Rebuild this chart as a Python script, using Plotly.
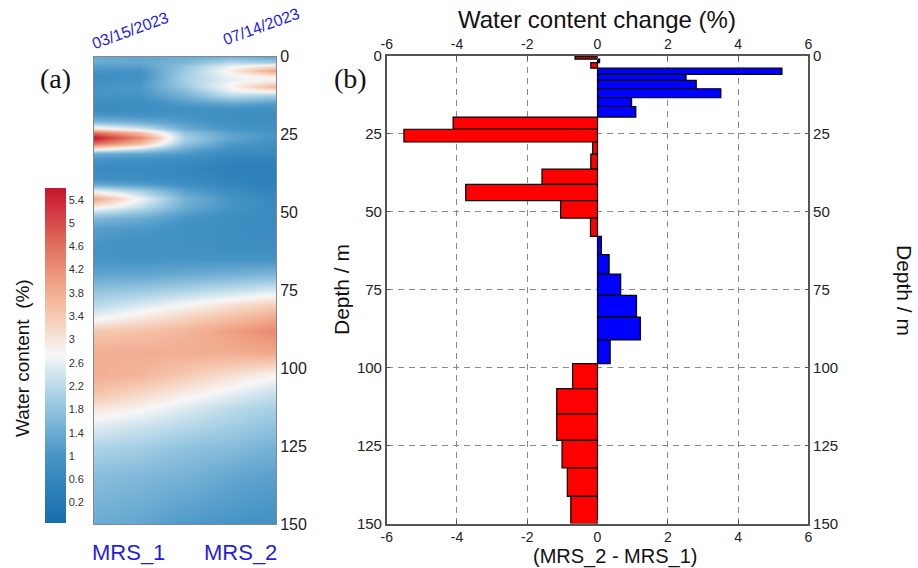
import plotly.graph_objects as go

W, H = 918, 568

# ---------------- Panel (a): water content section ----------------
depth_rows = [0, 2, 3, 4.5, 6, 7.3, 8, 9.5, 11, 12.5, 15, 17, 19, 21, 23, 24.5, 26, 28, 29.5,
              31, 33, 36, 39, 41, 43, 45.5, 48, 50, 52, 55, 60, 65, 70, 75, 80, 84, 88, 95,
              102, 108, 113, 118, 125, 135, 150]
section_x = [0, 0.25, 0.5, 0.75, 1.0]

wc_mrs1 = [1.4, 1.4, 1.2, 1.0, 0.8, 0.85, 0.9, 1.0, 1.0, 1.0, 0.8, 0.7, 1.1, 1.6, 3.0, 4.6, 5.6, 4.6, 3.0,
           1.4, 1.0, 0.7, 0.9, 1.4, 2.6, 3.9, 3.0, 2.2, 1.6, 1.2, 1.0, 1.0, 1.3, 1.8, 2.2, 2.7, 3.4, 3.8,
           3.8, 3.5, 3.0, 2.6, 2.1, 1.7, 1.4]
wc_q1 = [1.3, 1.3, 1.2, 1.0, 0.9, 0.95, 1.0, 1.05, 1.05, 1.0, 0.8, 0.8, 1.0, 1.4, 2.4, 3.6, 4.3, 3.6, 2.4,
         1.3, 0.9, 0.7, 0.8, 1.2, 2.0, 2.7, 2.3, 1.8, 1.4, 1.1, 0.9, 1.0, 1.3, 1.9, 2.5, 3.0, 3.5, 3.8,
         3.7, 3.2, 2.8, 2.4, 2.0, 1.6, 1.3]
wc_mid = [1.4, 1.6, 1.8, 1.9, 2.0, 2.0, 2.0, 1.9, 1.7, 1.5, 1.1, 0.9, 1.0, 1.1, 1.4, 1.8, 2.0, 1.8, 1.4,
          1.1, 0.8, 0.6, 0.7, 0.9, 1.2, 1.5, 1.4, 1.2, 1.0, 0.9, 0.9, 1.0, 1.4, 2.1, 2.8, 3.3, 3.7, 3.8,
          3.4, 2.9, 2.5, 2.2, 1.8, 1.5, 1.1]
wc_q3 = [1.5, 2.2, 2.6, 2.9, 2.7, 2.6, 2.7, 2.8, 2.6, 2.2, 1.3, 0.9, 0.8, 0.9, 1.0, 1.2, 1.3, 1.1, 0.9,
         0.7, 0.5, 0.4, 0.5, 0.6, 0.8, 1.0, 1.0, 0.9, 0.8, 0.8, 0.8, 1.0, 1.5, 2.3, 3.1, 3.6, 4.0, 3.8,
         3.1, 2.6, 2.2, 2.0, 1.7, 1.3, 1.0]
wc_mrs2 = [1.3, 2.0, 3.0, 4.0, 3.0, 2.7, 3.0, 3.7, 3.0, 2.0, 1.1, 0.9, 0.8, 0.8, 0.9, 1.0, 1.0, 0.9, 0.8,
           0.7, 0.5, 0.4, 0.4, 0.4, 0.5, 0.6, 0.7, 0.7, 0.7, 0.7, 0.8, 1.0, 1.6, 2.5, 3.4, 3.9, 4.3, 3.9,
           2.8, 2.3, 2.0, 1.8, 1.5, 1.2, 0.9]

cbar_ticks = [0.2, 0.6, 1.0, 1.4, 1.8, 2.2, 2.6, 3.0, 3.4, 3.8, 4.2, 4.6, 5.0, 5.4]
cbar_labels = ["0.2", "0.6", "1", "1.4", "1.8", "2.2", "2.6", "3", "3.4", "3.8", "4.2", "4.6", "5", "5.4"]
wc_min, wc_max = -0.15, 5.6

# ---------------- Panel (b): water content change ----------------
layer_bounds = [0.2, 1.0, 2.1, 3.9, 5.9, 7.8, 10.5, 13.4, 16.2, 19.6, 23.5, 27.6, 31.5, 36.3, 41.2,
                46.4, 52.0, 57.9, 63.7, 70.0, 76.8, 83.8, 91.1, 98.7, 106.7, 114.8, 123.3, 132.2,
                141.3, 150.0]
wc_change = [-0.64, 0.06, -0.19, 5.25, 2.52, 2.81, 3.51, 0.97, 1.09, -4.11, -5.51, -0.14, -0.19,
             -1.58, -3.75, -1.05, -0.20, 0.11, 0.33, 0.66, 1.11, 1.22, 0.36, -0.71, -1.16, -1.16,
             -1.01, -0.86, -0.76]

x_ticks = [-6, -4, -2, 0, 2, 4, 6]
depth_ticks = [0, 25, 50, 75, 100, 125, 150]

# ---------------- build ----------------
z = [list(r) for r in zip(wc_mrs1, wc_q1, wc_mid, wc_q3, wc_mrs2)]

colorscale = [
    [0.0, "rgb(22,110,172)"],
    [0.2, "rgb(70,148,198)"],
    [0.374, "rgb(165,207,229)"],
    [0.504, "rgb(247,247,247)"],
    [0.617, "rgb(246,202,178)"],
    [0.722, "rgb(240,160,130)"],
    [0.826, "rgb(225,112,95)"],
    [1.0, "rgb(200,20,45)"],
]

FONT = "Arial, Liberation Sans, sans-serif"

def px(xp):
    return xp / W

def py(yp):
    return 1 - yp / H

fig = go.Figure()

fig.add_trace(go.Heatmap(
    z=z, x=section_x, y=depth_rows, xaxis="x3", yaxis="y3",
    zsmooth="best", colorscale=colorscale, zmin=wc_min, zmax=wc_max,
    colorbar=dict(
        x=px(45), xanchor="left", xpad=0, ypad=0,
        y=py(355.5), yanchor="middle", len=(523 - 188) / H, lenmode="fraction",
        thickness=21, thicknessmode="pixels", outlinewidth=0,
        tickvals=cbar_ticks, ticktext=cbar_labels, ticks="",
        tickfont=dict(family=FONT, size=11, color="#333"),
    ),
    showscale=True,
))

centers = [(a + b) / 2 for a, b in zip(layer_bounds[:-1], layer_bounds[1:])]
thick = [b - a for a, b in zip(layer_bounds[:-1], layer_bounds[1:])]
colors = ["#0000ff" if v > 0 else "#ff0000" for v in wc_change]

fig.add_trace(go.Bar(
    x=wc_change, y=centers, width=thick, orientation="h",
    marker=dict(color=colors, line=dict(color="black", width=1.2)),
    xaxis="x", yaxis="y", showlegend=False,
))

fig.add_trace(go.Scatter(x=[0], y=[0], xaxis="x2", yaxis="y2", mode="markers",
                         marker=dict(opacity=0), showlegend=False, hoverinfo="skip"))

dom_x_b = [px(386.7), px(808.3)]
dom_y = [py(523.5), py(56)]

common_x = dict(range=[-6, 6], tickvals=x_ticks, ticktext=[str(t) for t in x_ticks],
                tickfont=dict(family=FONT, size=14, color="#222"), zeroline=False,
                showline=True, linecolor="#555", linewidth=1.5, automargin=False,
                ticks="inside", ticklen=4, tickcolor="#555")
common_y = dict(range=[150, 0], tickvals=depth_ticks, ticktext=[str(t) for t in depth_ticks],
                tickfont=dict(family=FONT, size=15, color="#222"), zeroline=False,
                showline=True, linecolor="#555", linewidth=1.5, automargin=False,
                ticks="inside", ticklen=4, tickcolor="#555")

fig.update_layout(
    width=W, height=H, margin=dict(l=0, r=0, t=0, b=0, pad=0, autoexpand=False),
    paper_bgcolor="white", plot_bgcolor="white",
    font=dict(family=FONT, color="#222"),
    showlegend=False,
    xaxis=dict(domain=dom_x_b, anchor="y", side="bottom",
               showgrid=True, gridcolor="#888", griddash="6px,5px", gridwidth=1.4, **common_x),
    xaxis2=dict(domain=dom_x_b, anchor="y", side="top", overlaying="x", showgrid=False, **common_x),
    yaxis=dict(domain=dom_y, anchor="x", side="left",
               showgrid=True, gridcolor="#888", griddash="6px,5px", gridwidth=1.4, **common_y),
    yaxis2=dict(domain=dom_y, anchor="x", side="right", overlaying="y", showgrid=False, **common_y),
    xaxis3=dict(domain=[px(94), px(276)], anchor="y3", range=[0, 1], showticklabels=False,
                ticks="", showgrid=False, zeroline=False, showline=True, mirror=True,
                linecolor="#888", linewidth=1, automargin=False),
    yaxis3=dict(domain=[py(524), py(56.5)], anchor="x3", range=[150, 0], side="right",
                tickvals=depth_ticks, ticktext=[str(t) for t in depth_ticks], ticks="",
                tickfont=dict(family=FONT, size=16, color="#222"), automargin=False,
                showgrid=False, zeroline=False, showline=True, mirror=True,
                linecolor="#888", linewidth=1),
)

blue_txt = "rgb(30,30,225)"
annots = [
    dict(text="(a)", x=px(55), y=py(79), font=dict(family="Liberation Serif, Times New Roman, serif", size=28, color="#111")),
    dict(text="(b)", x=px(350), y=py(79), font=dict(family="Liberation Serif, Times New Roman, serif", size=28, color="#111")),
    dict(text="03/15/2023", x=px(130), y=py(30), textangle=-20, font=dict(family=FONT, size=16, color=blue_txt)),
    dict(text="07/14/2023", x=px(261), y=py(26), textangle=-20, font=dict(family=FONT, size=16, color=blue_txt)),
    dict(text="MRS_1", x=px(128), y=py(552), font=dict(family=FONT, size=22, color=blue_txt)),
    dict(text="MRS_2", x=px(240), y=py(552), font=dict(family=FONT, size=22, color=blue_txt)),
    dict(text="Water content  (%)", x=px(22), y=py(358), textangle=-90, font=dict(family=FONT, size=19, color="#111")),
    dict(text="Water content change (%)", x=px(597), y=py(20), font=dict(family=FONT, size=24, color="#111")),
    dict(text="(MRS_2 - MRS_1)", x=px(615), y=py(556.5), font=dict(family=FONT, size=20, color="#111")),
    dict(text="Depth / m", x=px(341), y=py(290), textangle=-90, font=dict(family=FONT, size=21, color="#111")),
    dict(text="Depth / m", x=px(905), y=py(290), textangle=90, font=dict(family=FONT, size=21, color="#111")),
]
for a in annots:
    a.update(xref="paper", yref="paper", showarrow=False, xanchor="center", yanchor="middle")
fig.update_layout(annotations=annots)

fig.write_html("out.html")
